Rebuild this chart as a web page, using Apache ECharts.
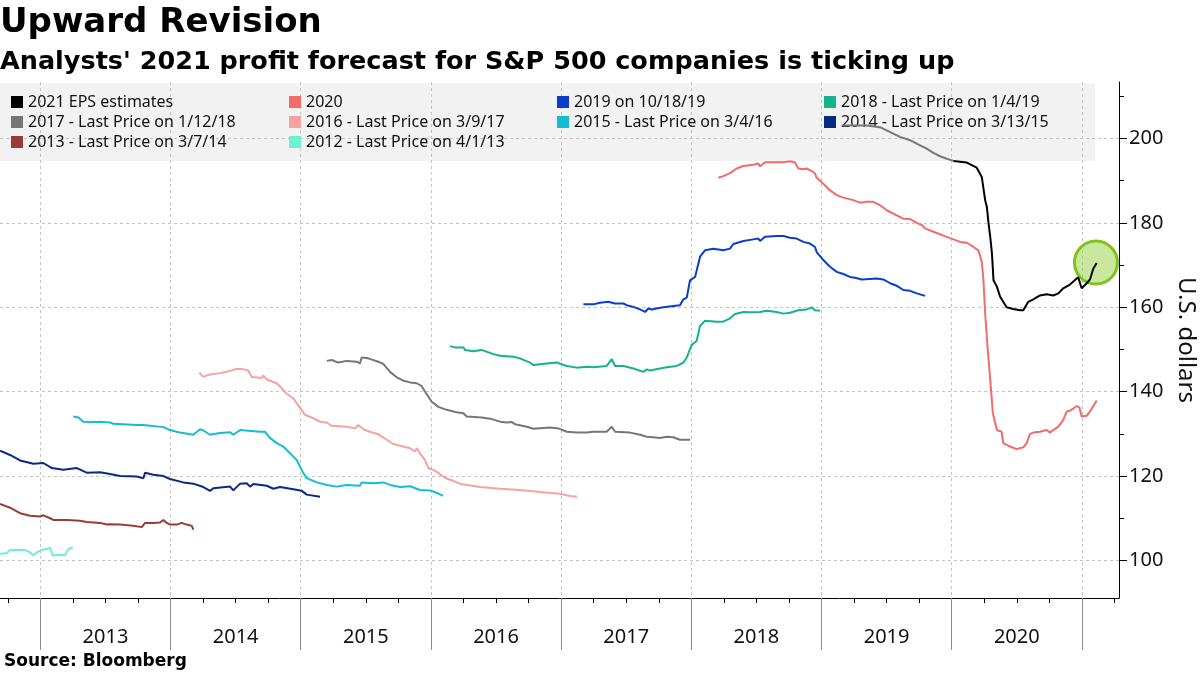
<!DOCTYPE html>
<html><head><meta charset="utf-8">
<script src="https://cdn.jsdelivr.net/npm/echarts@6/dist/echarts.min.js"></script>
<style>html,body{margin:0;padding:0;background:#fff}#c{width:1200px;height:675px}</style>
</head><body><div id="c"></div>
<script>
// ---- Data: [year fraction, EPS estimate in U.S. dollars] ----
const eps2012 = [[2012.690,101.6],[2012.742,101.7],[2012.767,102.5],[2012.882,102.5],[2012.921,101.9],[2012.946,101.2],[2012.972,101.9],[2013.011,102.5],[2013.049,102.7],[2013.075,103.0],[2013.095,101.2],[2013.126,101.3],[2013.190,101.3],[2013.215,102.7],[2013.249,103.1]];
const eps2013 = [[2012.690,113.4],[2012.767,112.5],[2012.844,111.2],[2012.921,110.6],[2012.998,110.4],[2013.023,110.7],[2013.075,110.0],[2013.100,109.6],[2013.203,109.6],[2013.305,109.4],[2013.356,109.1],[2013.459,108.9],[2013.510,108.5],[2013.535,108.6],[2013.612,108.5],[2013.714,108.2],[2013.779,107.9],[2013.804,108.9],[2013.868,108.9],[2013.919,109.0],[2013.945,109.6],[2013.971,108.9],[2013.996,108.5],[2014.048,108.5],[2014.086,108.9],[2014.124,108.5],[2014.163,108.2],[2014.175,107.3]];
const eps2014 = [[2012.690,126.0],[2012.767,125.0],[2012.844,123.7],[2012.946,122.9],[2013.023,123.1],[2013.088,121.9],[2013.177,121.5],[2013.280,121.9],[2013.356,120.8],[2013.459,120.9],[2013.535,120.5],[2013.612,120.0],[2013.740,119.9],[2013.791,119.5],[2013.804,120.8],[2013.868,120.3],[2013.945,120.0],[2013.996,119.3],[2014.098,118.5],[2014.175,118.2],[2014.252,117.4],[2014.303,116.5],[2014.329,117.1],[2014.457,117.5],[2014.482,116.6],[2014.534,118.2],[2014.585,118.3],[2014.611,117.5],[2014.636,118.1],[2014.739,117.7],[2014.790,117.0],[2014.841,117.4],[2014.943,116.9],[2015.008,116.5],[2015.046,115.6],[2015.148,115.1]];
const eps2015 = [[2013.253,134.1],[2013.292,133.9],[2013.330,132.9],[2013.433,132.8],[2013.459,132.9],[2013.535,132.7],[2013.561,132.4],[2013.740,132.1],[2013.791,132.1],[2013.945,131.6],[2013.996,130.9],[2014.073,130.3],[2014.175,129.8],[2014.227,131.1],[2014.252,130.8],[2014.303,129.8],[2014.380,130.2],[2014.457,130.4],[2014.482,129.8],[2014.534,130.9],[2014.688,130.5],[2014.726,130.5],[2014.765,129.0],[2014.816,127.8],[2014.866,127.0],[2014.943,124.6],[2014.969,123.8],[2015.020,120.7],[2015.046,119.5],[2015.123,118.5],[2015.200,117.9],[2015.276,117.5],[2015.353,117.9],[2015.455,117.7],[2015.468,118.5],[2015.558,118.3],[2015.634,118.5],[2015.686,117.9],[2015.763,117.4],[2015.840,117.6],[2015.916,116.7],[2015.993,116.6],[2016.047,116.0],[2016.093,115.3]];
const eps2016 = [[2014.221,144.5],[2014.252,143.5],[2014.290,144.0],[2014.380,144.4],[2014.432,144.7],[2014.508,145.4],[2014.547,145.4],[2014.598,145.0],[2014.624,143.4],[2014.662,143.4],[2014.700,143.2],[2014.713,143.8],[2014.739,142.9],[2014.816,142.0],[2014.854,140.8],[2014.892,139.5],[2014.943,138.4],[2014.995,136.1],[2015.033,134.5],[2015.097,133.7],[2015.148,132.9],[2015.200,132.7],[2015.238,131.9],[2015.353,131.7],[2015.417,131.3],[2015.442,132.1],[2015.481,131.1],[2015.532,130.5],[2015.596,129.9],[2015.661,128.6],[2015.711,127.6],[2015.763,127.2],[2015.840,126.6],[2015.878,125.8],[2015.891,126.6],[2015.916,125.4],[2015.955,123.8],[2015.980,121.9],[2016.031,121.3],[2016.108,119.6],[2016.223,118.2],[2016.377,117.4],[2016.531,117.0],[2016.684,116.7],[2016.838,116.2],[2016.992,115.8],[2017.068,115.3],[2017.122,115.1]];
const eps2017 = [[2015.200,147.3],[2015.238,147.5],[2015.289,146.9],[2015.353,147.3],[2015.430,147.1],[2015.455,146.7],[2015.468,148.1],[2015.519,147.9],[2015.596,147.1],[2015.634,146.6],[2015.686,144.7],[2015.737,143.4],[2015.788,142.6],[2015.840,142.2],[2015.891,142.0],[2015.929,141.3],[2015.955,140.0],[2016.006,137.6],[2016.057,136.4],[2016.121,135.7],[2016.198,135.1],[2016.249,134.9],[2016.275,134.1],[2016.390,133.9],[2016.467,133.5],[2016.531,132.9],[2016.582,132.7],[2016.621,132.8],[2016.646,132.3],[2016.736,131.7],[2016.786,131.2],[2016.915,131.5],[2016.979,131.3],[2017.043,130.5],[2017.120,130.3],[2017.197,130.3],[2017.247,130.5],[2017.350,130.5],[2017.389,131.7],[2017.414,130.5],[2017.530,130.3],[2017.606,129.8],[2017.658,129.3],[2017.708,129.2],[2017.760,129.0],[2017.811,129.3],[2017.862,129.2],[2017.913,128.6],[2017.990,128.6]];
const eps2018 = [[2016.147,150.8],[2016.185,150.5],[2016.249,150.5],[2016.262,149.9],[2016.326,149.6],[2016.390,149.9],[2016.479,148.9],[2016.531,148.5],[2016.633,148.3],[2016.684,147.9],[2016.761,146.9],[2016.787,146.3],[2016.889,146.7],[2016.966,146.9],[2017.043,146.1],[2017.120,145.7],[2017.197,145.9],[2017.247,145.8],[2017.350,146.1],[2017.389,147.7],[2017.414,146.1],[2017.478,146.1],[2017.555,145.5],[2017.631,144.7],[2017.658,145.3],[2017.683,145.0],[2017.760,145.5],[2017.811,145.8],[2017.888,146.1],[2017.939,146.9],[2017.965,148.1],[2018.003,151.1],[2018.041,152.0],[2018.067,155.6],[2018.105,156.8],[2018.195,156.6],[2018.246,156.6],[2018.297,157.4],[2018.336,158.4],[2018.400,158.9],[2018.451,158.8],[2018.528,158.9],[2018.579,159.2],[2018.656,158.9],[2018.707,158.5],[2018.758,158.7],[2018.822,159.3],[2018.886,159.5],[2018.925,160.0],[2018.950,159.3],[2018.989,159.2]];
const eps2019 = [[2017.171,160.7],[2017.247,160.7],[2017.298,161.1],[2017.362,161.3],[2017.413,160.9],[2017.478,160.9],[2017.503,160.5],[2017.555,160.1],[2017.606,159.5],[2017.645,158.9],[2017.670,159.7],[2017.696,159.5],[2017.760,159.9],[2017.862,160.3],[2017.913,160.5],[2017.939,161.9],[2017.965,162.3],[2017.990,166.4],[2018.029,167.2],[2018.067,172.0],[2018.105,173.5],[2018.169,173.9],[2018.246,173.5],[2018.297,173.9],[2018.323,175.0],[2018.400,175.7],[2018.476,176.1],[2018.515,176.3],[2018.528,175.7],[2018.566,176.7],[2018.656,176.9],[2018.707,176.9],[2018.758,176.5],[2018.809,176.3],[2018.860,175.5],[2018.911,175.1],[2018.950,174.3],[2018.963,173.1],[2019.014,171.2],[2019.065,169.6],[2019.117,168.4],[2019.167,167.9],[2019.219,167.2],[2019.257,167.0],[2019.309,166.6],[2019.424,166.8],[2019.475,166.6],[2019.527,165.7],[2019.578,165.1],[2019.629,164.1],[2019.680,163.9],[2019.732,163.3],[2019.796,162.7]];
const eps2020 = [[2018.207,190.7],[2018.246,191.1],[2018.297,191.8],[2018.349,192.9],[2018.399,193.5],[2018.476,193.8],[2018.515,194.1],[2018.528,193.4],[2018.566,194.4],[2018.656,194.4],[2018.707,194.4],[2018.758,194.6],[2018.796,194.3],[2018.822,192.9],[2018.860,192.7],[2018.886,192.9],[2018.925,192.3],[2018.950,191.7],[2018.963,190.7],[2018.975,191.1],[2019.014,189.3],[2019.065,187.7],[2019.117,186.6],[2019.167,186.0],[2019.244,185.4],[2019.296,184.8],[2019.347,185.0],[2019.398,185.0],[2019.449,184.2],[2019.501,183.0],[2019.578,181.8],[2019.628,181.0],[2019.680,180.9],[2019.732,180.0],[2019.770,179.5],[2019.796,178.7],[2019.859,177.9],[2019.911,177.3],[2019.988,176.4],[2020.013,176.1],[2020.065,175.5],[2020.116,175.3],[2020.167,174.3],[2020.205,173.5],[2020.231,170.8],[2020.244,166.4],[2020.257,158.6],[2020.275,150.7],[2020.296,142.8],[2020.316,134.9],[2020.347,130.9],[2020.384,130.5],[2020.396,127.8],[2020.448,127.0],[2020.499,126.4],[2020.550,126.8],[2020.576,127.8],[2020.601,130.0],[2020.627,130.3],[2020.678,130.5],[2020.730,130.9],[2020.755,130.3],[2020.780,130.9],[2020.819,131.7],[2020.857,133.3],[2020.883,135.3],[2020.908,135.5],[2020.934,136.0],[2020.960,136.6],[2020.980,136.3],[2020.998,134.1],[2021.037,134.3],[2021.062,135.3],[2021.114,137.9]];
const eps2021Early = [[2019.155,203.1],[2019.347,203.1],[2019.449,202.7],[2019.527,201.5],[2019.603,200.4],[2019.680,199.6],[2019.757,198.4],[2019.808,197.6],[2019.859,196.6],[2019.911,195.8],[2019.962,195.2],[2020.013,194.7]];
const eps2021 = [[2020.013,194.7],[2020.116,194.3],[2020.192,193.1],[2020.231,190.9],[2020.257,185.4],[2020.270,183.8],[2020.283,179.9],[2020.296,176.7],[2020.309,172.8],[2020.321,166.4],[2020.347,164.9],[2020.372,162.5],[2020.422,160.0],[2020.473,159.6],[2020.524,159.3],[2020.550,159.3],[2020.588,161.3],[2020.627,161.9],[2020.678,162.8],[2020.730,163.1],[2020.780,162.8],[2020.819,163.3],[2020.857,164.5],[2020.908,165.4],[2020.972,167.1],[2020.998,164.5],[2021.037,165.7],[2021.062,166.6],[2021.088,169.2],[2021.114,170.5]];
const highlightPoint = [2021.108, 170.6];

const seriesNames = ['2021 EPS estimates','2020','2019 on 10/18/19','2018 - Last Price on 1/4/19','2017 - Last Price on 1/12/18','2016 - Last Price on 3/9/17','2015 - Last Price on 3/4/16','2014 - Last Price on 3/13/15','2013 - Last Price on 3/7/14','2012 - Last Price on 4/1/13'];
const seriesData = [eps2021, eps2020, eps2019, eps2018, eps2017, eps2016, eps2015, eps2014, eps2013, eps2012];
const seriesColors = ['#000000','#f26b6b','#0a3dcc','#15b38b','#767676','#f7a2a2','#14bdd2','#0a2a80','#9a3b3b','#6ff0d0'];
const yTicks = [100,120,140,160,180,200];
const yMinorTicks = [110,130,150,170,190,210];
const yearLabels = ['2013','2014','2015','2016','2017','2018','2019','2020'];
const yearStarts = [2013,2014,2015,2016,2017,2018,2019,2020,2021];

const xMin = 2012.690, xMax = 2021.285, yMin = 91.1, yMax = 213.4;
const quarterTicks = [];
for (let q = 2012.75; q <= xMax; q += 0.25) { if (Math.abs(q - Math.round(q)) > 1e-6) quarterTicks.push(+q.toFixed(2)); }
const labelPos = yearLabels.map(y => +y + 0.5);

const fontLbl = 'Noto Sans';
const chart = echarts.init(document.getElementById('c'), null, {renderer: 'canvas'});

const series = seriesNames.map((n, i) => ({
  name: n, type: 'line', data: seriesData[i], showSymbol: false, symbol: 'none',
  lineStyle: {width: 2, color: seriesColors[i]}, itemStyle: {color: seriesColors[i]},
  z: 10 - i, silent: true, animation: false
}));
series.push({
  name: '2021 (before 2020)', type: 'line', data: eps2021Early, showSymbol: false, symbol: 'none',
  lineStyle: {width: 2, color: '#777777'}, itemStyle: {color: '#777777'}, silent: true, z: 9
});
series[0].markPoint = {
  silent: true, animation: false,
  data: [{coord: highlightPoint, symbol: 'circle', symbolSize: 43,
    itemStyle: {color: 'rgba(150,210,60,0.5)', borderColor: '#7fc31c', borderWidth: 3},
    label: {show: false}}]
};

const legendCols = [[0,4,8],[1,5,9],[2,6],[3,7]];
const legendLefts = [11, 289, 557, 824];
const legends = legendCols.map((col, k) => ({
  orient: 'vertical', left: legendLefts[k], top: 92, padding: 0, itemGap: 0,
  icon: 'rect', itemWidth: 12, itemHeight: 12, selectedMode: false,
  data: col.map(i => seriesNames[i]),
  textStyle: {fontFamily: fontLbl, fontSize: 16, color: '#111', lineHeight: 20, height: 20}
}));

chart.setOption({
  animation: false,
  backgroundColor: '#ffffff',
  title: [
    {text: 'Upward Revision', left: 0, top: 6, padding: 0,
      textStyle: {fontFamily: 'DejaVu Sans', fontWeight: 'bold', fontSize: 34, color: '#000'}},
    {text: "Analysts' 2021 profit forecast for S&P 500 companies is ticking up", left: 0, top: 49, padding: 0,
      textStyle: {fontFamily: 'DejaVu Sans', fontWeight: 'bold', fontSize: 25.5, color: '#000'}},
    {text: 'Source: Bloomberg', left: 4, top: 653, padding: 0,
      textStyle: {fontFamily: 'DejaVu Sans', fontWeight: 'bold', fontSize: 17, color: '#000'}}
  ],
  legend: legends,
  graphic: [{type: 'rect', z: -10, shape: {x: 0, y: 83, width: 1095, height: 78}, style: {fill: '#f2f2f2'}, silent: true}],
  grid: {left: 0, right: 81, top: 82, bottom: 77, containLabel: false, outerBoundsMode: 'none'},
  xAxis: [
    {type: 'value', min: xMin, max: xMax, position: 'bottom',
      axisLine: {show: true, lineStyle: {color: '#000', width: 1}},
      axisTick: {show: true, customValues: quarterTicks, length: 5, lineStyle: {color: '#000'}},
      axisLabel: {show: false}, splitLine: {show: false}},
    {type: 'value', min: xMin, max: xMax, position: 'bottom',
      axisLine: {show: false},
      axisTick: {show: true, customValues: yearStarts, length: 52, lineStyle: {color: '#8a8a8a', width: 1}},
      axisLabel: {show: true, customValues: labelPos, margin: 29,
        formatter: v => yearLabels[Math.round(v - 0.5) - 2013] || '',
        fontFamily: fontLbl, fontSize: 20, color: '#111'},
      splitLine: {show: true, lineStyle: {color: '#c4c4c4', type: [3, 3], width: 1}}}
  ],
  yAxis: [
    {type: 'value', min: yMin, max: yMax, position: 'right',
      name: 'U.S. dollars', nameLocation: 'middle', nameRotate: -90, nameGap: 55,
      nameTextStyle: {fontFamily: fontLbl, fontSize: 24, color: '#111'},
      axisLine: {show: true, lineStyle: {color: '#000', width: 1}},
      axisTick: {show: true, customValues: yTicks, length: 8, lineStyle: {color: '#000'}},
      axisLabel: {show: true, customValues: yTicks, margin: 10, fontFamily: fontLbl, fontSize: 20, color: '#111'},
      splitLine: {show: true, lineStyle: {color: '#c4c4c4', type: [3, 3], width: 1}}},
    {type: 'value', min: yMin, max: yMax, position: 'right',
      axisLine: {show: false},
      axisTick: {show: true, customValues: yMinorTicks, length: 5, lineStyle: {color: '#000'}},
      axisLabel: {show: false}, splitLine: {show: false}}
  ],
  series: series
});
</script>
</body></html>
